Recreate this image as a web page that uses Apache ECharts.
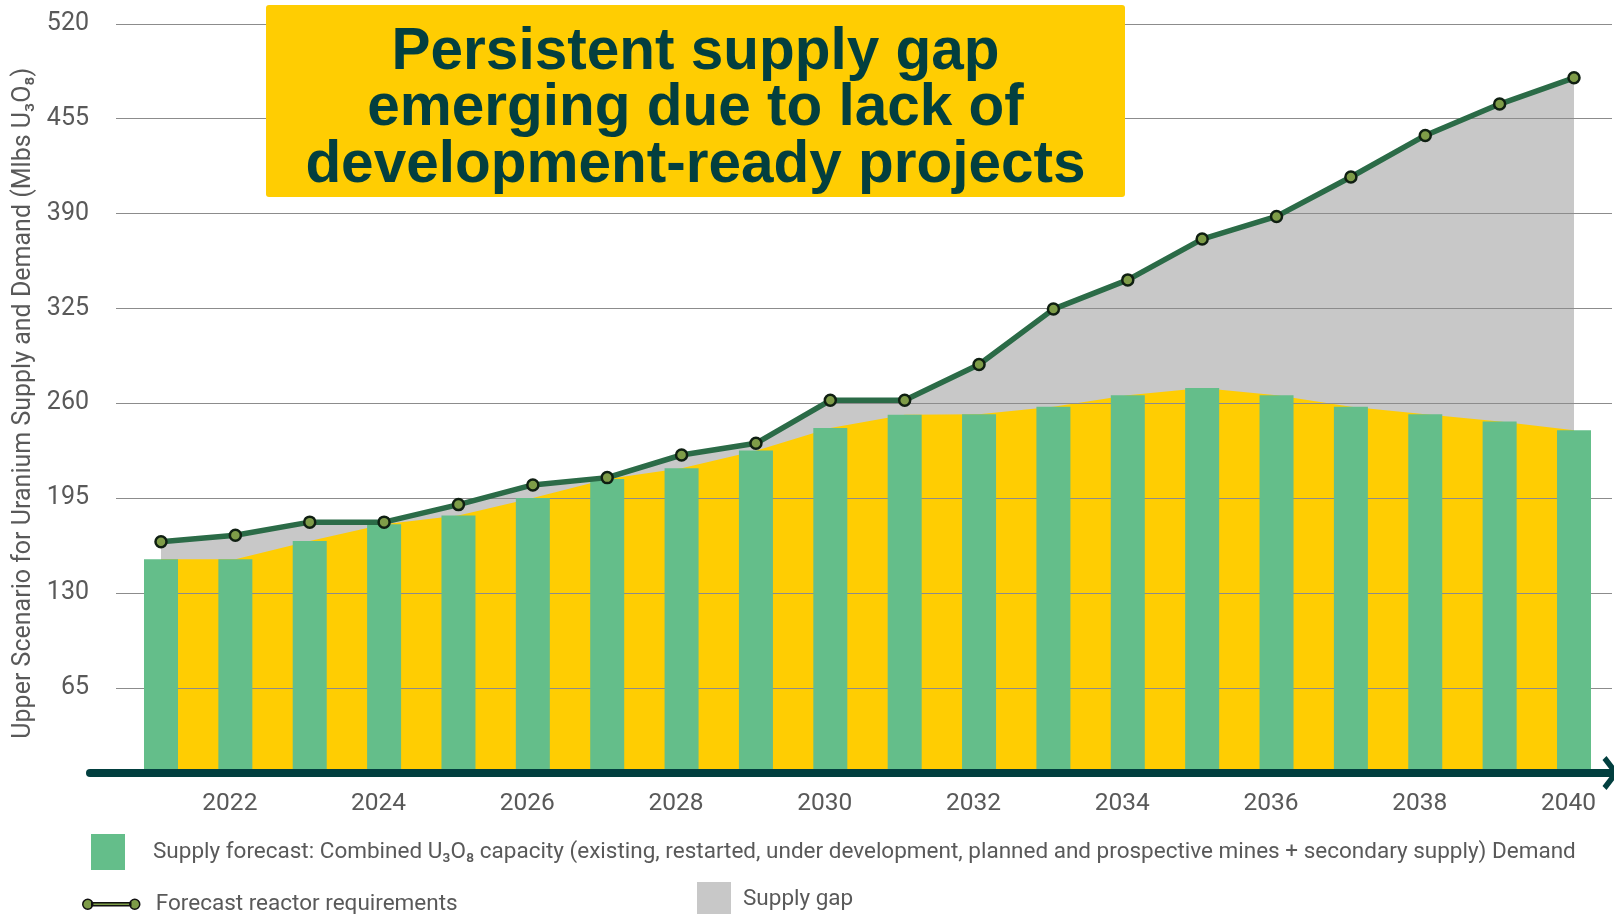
<!DOCTYPE html>
<html>
<head>
<meta charset="utf-8">
<title>Persistent supply gap</title>
<script src="https://cdn.jsdelivr.net/npm/echarts@6.0.0/dist/echarts.min.js"></script>
<style>
  html, body { margin: 0; padding: 0; background: #fff; }
  #chart { width: 1614px; height: 914px; }
</style>
</head>
<body>
<div id="chart"></div>
<script>
// years on the horizontal axis
var years = [2021, 2022, 2023, 2024, 2025, 2026, 2027, 2028, 2029, 2030,
             2031, 2032, 2033, 2034, 2035, 2036, 2037, 2038, 2039, 2040];
// supply forecast, Mlbs U3O8 (green bars + yellow area)
var supplyValues = [153, 153, 165.5, 177, 183, 195, 208, 215.5, 227.5, 243,
                    252, 252.5, 257.5, 265.5, 270.5, 265.5, 257.5, 252.5, 247.5, 241.5];
// forecast reactor requirements, Mlbs U3O8 (line + grey gap)
var demandValues = [165, 169.5, 178.5, 178.5, 190.5, 204, 209, 224.5, 232.5, 262,
                    262, 286.5, 324.5, 344.5, 372.5, 388, 415, 443.5, 465, 483];
// tick labels
var xTickLabels = [2022, 2024, 2026, 2028, 2030, 2032, 2034, 2036, 2038, 2040];
var yMax = 520;
var yStep = 65;

var titleLines = ['Persistent supply gap', 'emerging due to lack of', 'development-ready projects'];
var supplyName = 'Supply forecast: Combined U\u2083O\u2088 capacity (existing, restarted, under development, planned and prospective mines + secondary supply)';
var demandName = 'Forecast reactor requirements';
var gapName = 'Supply gap';

function pairs(vals) {
  return years.map(function (y, i) { return [y, vals[i]]; });
}

var textGrey = '#595959';
var font = 'Roboto, "Liberation Sans", sans-serif';
var chevron = 'path://M17,0 L34,13 L30,17 L17,7 L4,17 L0,13 Z';
var lineIcon = 'path://M0,6a5,5 0 1,0 10,0a5,5 0 1,0 -10,0z M9,4.5h39v3h-39z M47,6a5,5 0 1,0 10,0a5,5 0 1,0 -10,0z';

var chart = echarts.init(document.getElementById('chart'));

chart.setOption({
  animation: false,
  grid: [
    { left: 116, right: 2, top: 23.8, bottom: 131.4 },
    { left: 90, right: 0, top: 700, bottom: 141 }
  ],
  xAxis: [
    {
      type: 'value', gridIndex: 0, min: 2020.395, max: 2040.511, z: 6,
      axisLine: { show: true, onZero: false, lineStyle: { color: '#fff', width: 12 } },
      axisTick: { show: false },
      splitLine: { show: false },
      axisLabel: {
        customValues: xTickLabels,
        formatter: function (v) { return String(v); },
        fontSize: 24.5, color: textGrey, fontFamily: font, margin: 9, padding: [0, 11, 0, 0]
      }
    },
    {
      type: 'value', gridIndex: 1, min: 0, max: 1, z: 7,
      axisLine: {
        show: true, onZero: false,
        lineStyle: { color: '#023F3F', width: 8 },
        symbol: ['none', chevron], symbolSize: [34, 17], symbolOffset: [0, -3]
      },
      axisTick: { show: false },
      axisLabel: { show: false },
      splitLine: { show: false }
    }
  ],
  yAxis: [
    {
      type: 'value', gridIndex: 0, min: 0, max: yMax, interval: yStep, z: 3,
      name: 'Upper Scenario for Uranium Supply and Demand (Mlbs U\u2083O\u2088)',
      nameLocation: 'middle', nameGap: 73,
      nameTextStyle: { fontSize: 25, color: textGrey, fontFamily: font },
      axisLine: { show: false },
      axisTick: { show: false },
      axisLabel: { fontSize: 25, color: textGrey, fontFamily: font, margin: 27, showMinLabel: false },
      splitLine: { lineStyle: { color: '#8c8c8c', width: 1 } }
    },
    { type: 'value', gridIndex: 1, show: false }
  ],
  legend: [
    {
      data: [supplyName], left: 91, top: 834, padding: 0, selectedMode: false,
      itemWidth: 34, itemHeight: 36, icon: 'rect',
      itemStyle: { color: '#64BE8A' },
      formatter: function (n) { return n + ' Demand'; },
      textStyle: { fontSize: 22.5, color: textGrey, fontFamily: font, padding: [0, 0, 22, 23] }
    },
    {
      data: [demandName], left: 82, top: 892.7, padding: 0, selectedMode: false,
      itemWidth: 57, itemHeight: 11, icon: lineIcon,
      itemStyle: { color: '#7E9C48', borderColor: '#111', borderWidth: 1.5 },
      textStyle: { fontSize: 22.5, color: textGrey, fontFamily: font, padding: [0, 0, 20, 11] }
    },
    {
      data: [gapName], left: 697, top: 882, padding: 0, selectedMode: false,
      itemWidth: 34, itemHeight: 34, icon: 'rect',
      itemStyle: { color: '#C8C8C8' },
      textStyle: { fontSize: 22.5, color: textGrey, fontFamily: font, padding: [4, 0, 0, 7] }
    }
  ],
  graphic: [
    {
      type: 'rect', z: 100,
      shape: { x: 266, y: 5, width: 859, height: 192, r: 3 },
      style: { fill: '#FFCD02' }
    },
    {
      type: 'text', z: 101, x: 695.5, y: 109,
      style: {
        text: titleLines.join('\n'), fill: '#033F3F',
        fontSize: 58.5, fontWeight: 'bold', fontFamily: '"Liberation Sans", Arial, sans-serif',
        align: 'center', verticalAlign: 'middle', lineHeight: 56.6
      }
    }
  ],
  series: [
    {
      name: gapName, type: 'line', data: pairs(demandValues), z: 1, silent: true,
      symbol: 'none', lineStyle: { opacity: 0 },
      itemStyle: { color: '#C8C8C8' },
      areaStyle: { color: '#C8C8C8', opacity: 1 }
    },
    {
      name: 'Supply area', type: 'line', data: pairs(supplyValues), z: 2, silent: true,
      symbol: 'none', lineStyle: { opacity: 0 },
      itemStyle: { color: '#FFCD02' },
      areaStyle: { color: '#FFCD02', opacity: 1 }
    },
    {
      name: supplyName, type: 'bar', data: pairs(supplyValues), z: 4,
      barWidth: 34,
      itemStyle: { color: '#64BE8A' }
    },
    {
      name: demandName, type: 'line', data: pairs(demandValues), z: 5,
      symbol: 'circle', symbolSize: 11,
      lineStyle: { color: '#2B6B47', width: 5.5 },
      itemStyle: { color: '#7E9C48', borderColor: '#0F1F12', borderWidth: 2.5 }
    }
  ]
});
</script>
</body>
</html>
